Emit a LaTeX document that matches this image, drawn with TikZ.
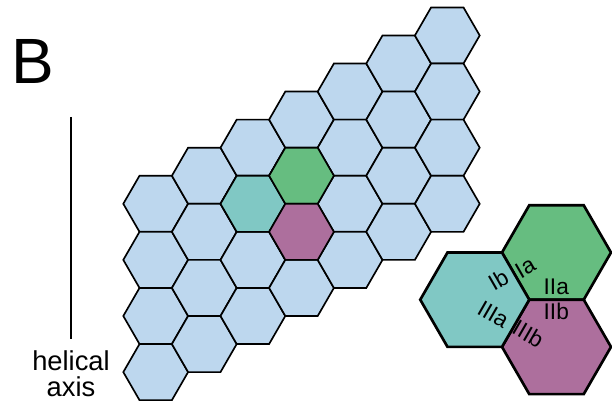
\documentclass[tikz,border=0pt]{standalone}
\usepackage{fontspec}
\setmainfont{Liberation Sans}
\usetikzlibrary{shapes.geometric, positioning, calc}
\definecolor{colCell}{RGB}{189,215,238}
\definecolor{colGreen}{RGB}{102,189,128}
\definecolor{colTeal}{RGB}{128,200,196}
\definecolor{colPurple}{RGB}{173,111,157}
\definecolor{colBorder}{RGB}{0,0,0}
\tikzset{
  cell/.style={
    regular polygon, regular polygon sides=6,
    draw=colBorder, line width=1.25pt, fill=colCell,
    inner sep=0pt, outer sep=0pt, minimum size=48.6pt
  },
  bigCell/.style={
    cell, line width=2pt, minimum size=81.75pt
  },
  siteLabel/.style={
    font=\fontsize{17}{17}\selectfont, inner sep=0pt
  },
  axisLine/.style={
    line width=2.2pt
  }
}

\begin{document}
\begin{tikzpicture}[x=0.75pt, y=0.75pt]
\useasboundingbox (0,0) rectangle (612,402);

%% ==============================================================
%% Panel letter and helical axis
%% ==============================================================
\node[anchor=base west, inner sep=0pt, font=\fontsize{48}{48}\selectfont]
    (panel) at (11.3,318.7) {B};

\coordinate (axtop) at (71,285);
\node[align=center, inner xsep=0pt, inner ysep=8.5pt,
      font=\fontsize{20.5}{19.5}\selectfont,
      below=166.5pt of axtop] (axlbl) {helical\\axis};
\draw[axisLine] (axtop) -- (axlbl.north);

%% ==============================================================
%% Hexagonal lattice (7 columns x 4 rows)
%% ==============================================================
\foreach \c in {0,...,6}{
  \foreach \r in {0,...,3}{
    \node[cell] (c\c r\r) at ({155.7+48.6*\c},{198.2+28.05*\c-56.1*\r}) {};
  }
}

% highlighted cells
\node[cell, fill=colTeal]   (teal)   at (c2r1) {};
\node[cell, fill=colGreen]  (green)  at (c3r1) {};
\node[cell, fill=colPurple] (purple) at (c3r2) {};

%% ==============================================================
%% Enlarged trio with interface labels
%% ==============================================================
\node[bigCell, fill=colGreen] (bigGreen) at (556.5,149.5) {};
\node[bigCell, fill=colPurple, below=0pt of bigGreen] (bigPurple) {};
\node[bigCell, fill=colTeal] (bigTeal) at ($(bigGreen)+(-81.75,-47.2)$) {};

\coordinate (joint) at (bigTeal.east);

\node[siteLabel, rotate=30]  (Ib)   at ($(joint)+(-31,20)$)  {Ib};
\node[siteLabel, rotate=30]  (Ia)   at ($(joint)+(-4,32)$)   {Ia};
\node[siteLabel]             (IIa)  at ($(joint)+(27,12.5)$) {IIa};
\node[siteLabel]             (IIb)  at ($(joint)+(27,-12)$)  {IIb};
\node[siteLabel, rotate=-30] (IIIa) at ($(joint)+(-36,-15)$) {IIIa};
\node[siteLabel, rotate=-30] (IIIb) at ($(joint)+(-1,-34)$)  {IIIb};

\end{tikzpicture}
\end{document}
